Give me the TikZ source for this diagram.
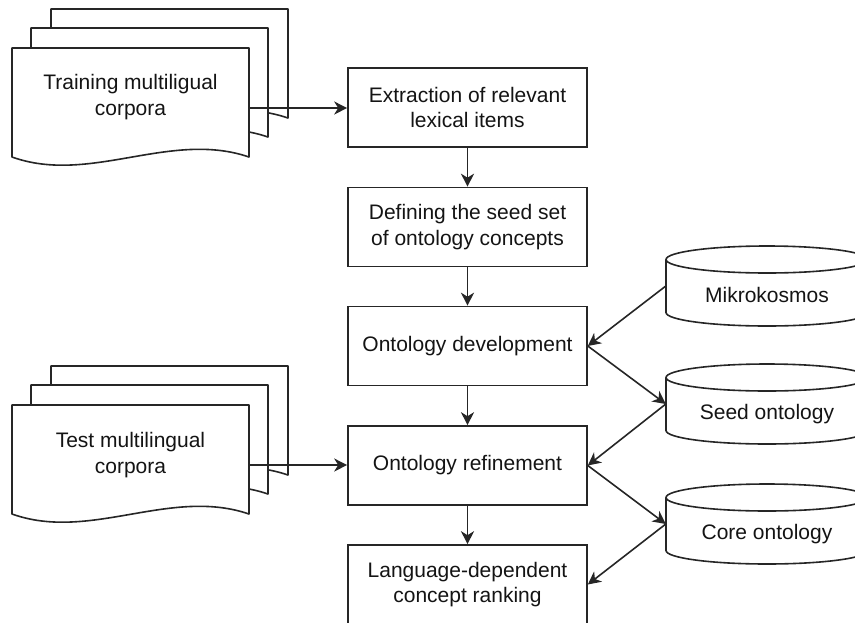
\documentclass[tikz,border=0pt]{standalone}
\usepackage{fontspec}
\setmainfont{Liberation Sans}
\usetikzlibrary{arrows.meta}
\newcommand\mydocpage[2]{%
  \draw[shp] (#1,#2) -- ++(237,0) -- ++(0,109)
    .. controls +(-79,-27) and +(78,28) .. ++(-237,0) -- cycle;}
\newcommand\mycyl[2]{%
  \draw[shp] (#1-101,#2+13.5) -- (#1-101,#2+66.5)
    arc[start angle=180, end angle=360, x radius=101pt, y radius=13.5pt]
    -- (#1+101,#2+13.5)
    arc[start angle=0, end angle=180, x radius=101pt, y radius=13.5pt] -- cycle;
  \draw[shp, fill=none] (#1-101,#2+13.5)
    arc[start angle=180, end angle=360, x radius=101pt, y radius=13.5pt];}
\begin{document}
\begin{tikzpicture}[x=1pt,y=-1pt,
  txt/.style={font=\fontsize{21}{25.5}\selectfont, text=black!92, align=center, inner sep=0pt},
  box/.style={txt, draw=black!85, line width=1.6pt, fill=white, minimum width=239pt, minimum height=79pt},
  anch/.style={inner sep=0pt, minimum width=202pt, minimum height=80pt},
  arr/.style={draw=black!85, line width=1.6pt, -{Stealth[length=13pt,width=13pt,inset=4pt]}},
  shp/.style={draw=black!85, line width=1.6pt, fill=white, line join=round}]
\useasboundingbox (0,0) rectangle (855,622);
\clip (0,0) rectangle (855,622);

% training corpora
\mydocpage{51}{9}
\mydocpage{31}{28}
\mydocpage{12}{48}
\node[txt] (train) at (130.5,97) {Training multiligual\\corpora};
\coordinate (trainout) at (249,108);

% test corpora
\mydocpage{51}{366}
\mydocpage{31}{385}
\mydocpage{12}{405}
\node[txt] (test) at (130.5,455) {Test multilingual\\corpora};
\coordinate (testout) at (249,465);

% process boxes
\node[box] (ext)  at (467.5,107.5) {Extraction of relevant\\lexical items};
\node[box] (def)  at (467.5,227)   {Defining the seed set\\of ontology concepts};
\node[box] (dev)  at (467.5,346)   {Ontology development};
\node[box] (ref)  at (467.5,465.5) {Ontology refinement};
\node[box] (lang) at (467.5,584.5) {Language-dependent\\concept ranking};

% cylinders
\mycyl{767}{246}
\mycyl{767}{364}
\mycyl{767}{484}
\node[anch] (mik)  at (767,286) {};
\node[anch] (seed) at (767,404) {};
\node[anch] (core) at (767,524) {};
\node[txt] (mikt)  at (767,295) {Mikrokosmos};
\node[txt] (seedt) at (767,414) {Seed ontology};
\node[txt] (coret) at (767,534) {Core ontology};

% connectors
\draw[arr] (trainout) -- (trainout -| ext.west);
\draw[arr] (testout) -- (testout -| ref.west);
\draw[arr] (ext) -- (def);
\draw[arr] (def) -- (dev);
\draw[arr] (dev) -- (ref);
\draw[arr] (ref) -- (lang);
\draw[arr] (mik.west) -- (dev.east);
\draw[arr] (dev.east) -- (seed.west);
\draw[arr] (seed.west) -- (ref.east);
\draw[arr] (ref.east) -- (core.west);
\draw[arr] (core.west) -- (lang.east);
\end{tikzpicture}
\end{document}
